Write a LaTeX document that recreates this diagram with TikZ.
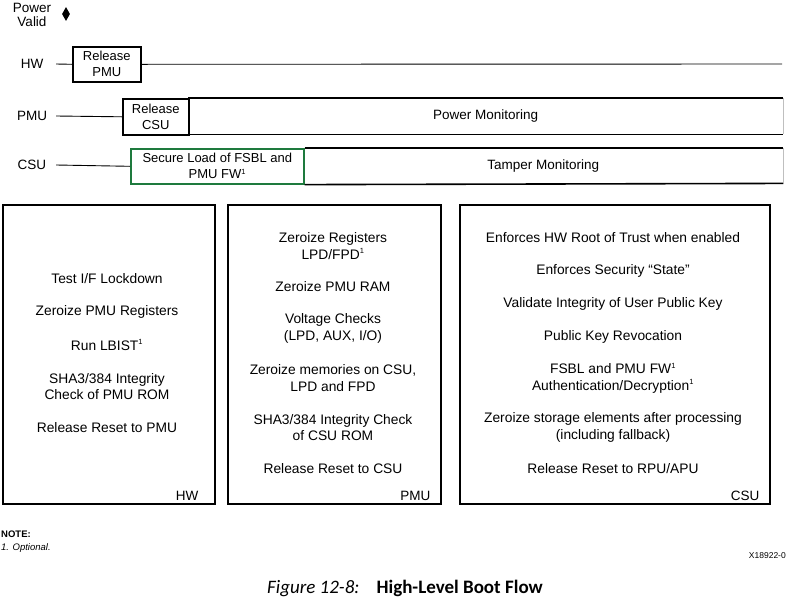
\documentclass[tikz,border=0pt]{standalone}
\usepackage{fontspec}
\setmainfont{Liberation Sans}
\newfontfamily\capfont{Carlito}
\usepackage{xcolor}
\usetikzlibrary{shapes.geometric}
\tikzset{>=stealth}
\definecolor{fwgreen}{RGB}{30,122,62}
\newcommand{\opt}{\textsuperscript{\fontsize{7.5}{7.5}\selectfont 1}}

\begin{document}
\begin{tikzpicture}[x=1pt,y=-1pt,
    lane/.style={minimum width=48pt,inner sep=0pt,font=\fontsize{13.5}{15}\selectfont},
    stage/.style={draw,line width=1.6pt,anchor=north west,inner sep=0pt,align=center,font=\fontsize{13}{16}\selectfont},
    band/.style={anchor=north west,inner sep=0pt,font=\fontsize{13.5}{15}\selectfont},
    panel/.style={draw,line width=1.6pt,anchor=north west,inner sep=0pt},
    item/.style={align=center,font=\fontsize{13.8}{16.5}\selectfont},
    tag/.style={anchor=south east,inner xsep=11pt,inner ysep=4pt,font=\fontsize{13.5}{15}\selectfont},
    link/.style={line width=0.9pt}]
      \useasboundingbox (0,0) rectangle (787,600);
      % power valid marker
      \node[align=center,font=\fontsize{13.5}{14}\selectfont] (pwrvalid) at (32,15) {Power\\Valid};
      \node[diamond,fill,inner sep=0pt,minimum width=8pt,minimum height=14pt] (pvmark) at (66,14) {};
      % HW row
      \node[lane] (hwlbl) at (32,64) {HW};
      \node[stage,minimum width=68pt,minimum height=35pt] (relpmu) at (72,46) {Release\\PMU};
      \coordinate (hwend) at (782,64);
      \draw[link] (hwlbl.east) -- (relpmu.west);
      \draw[link] (relpmu.east) -- (hwend);
      % PMU row
      \node[lane] (pmulbl) at (32,116) {PMU};
      \node[stage,minimum width=66pt,minimum height=36pt] (relcsu) at (122,98) {Release\\CSU};
      \node[band,minimum width=595pt,minimum height=36pt] (pwrmon) at (188,98) {Power Monitoring};
      \draw[link] (pmulbl.east) -- (relcsu.west);
      \draw[line width=1.6pt] (pwrmon.north west) -- (pwrmon.north east);
      \draw[line width=1.6pt] (pwrmon.south west) -- (pwrmon.south east);
      \draw[black!25] (pwrmon.north east) -- (pwrmon.south east);
      % CSU row
      \node[lane] (csulbl) at (32,165) {CSU};
      \node[stage,draw=fwgreen,minimum width=173pt,minimum height=35pt] (secload) at (130,148) {Secure Load of FSBL and\\PMU FW\opt};
      \node[band,minimum width=480pt,minimum height=35pt] (tamper) at (303,148) {Tamper Monitoring};
      \draw[link] (csulbl.east) -- (secload.west);
      \draw[line width=1.6pt] (secload.north east) -- (tamper.north east);
      \draw[line width=1.6pt] (secload.south east) -- (tamper.south east);
      \draw[black!25] (tamper.north east) -- (tamper.south east);
      % HW panel
      \node[panel,minimum width=212pt,minimum height=299pt] (hwbox) at (2,204) {};
      \node[item] (hw1) at (107,279) {Test I/F Lockdown};
      \node[item] (hw2) at (107,312) {Zeroize PMU Registers};
      \node[item] (hw3) at (107,345) {Run LBIST\opt};
      \node[item] (hw4) at (107,386.5) {SHA3/384 Integrity\\Check of PMU ROM};
      \node[item] (hw5) at (107,428) {Release Reset to PMU};
      \node[tag,inner xsep=17pt] (hwtag) at (hwbox.south east) {HW};
      % PMU panel
      \node[panel,minimum width=213pt,minimum height=299pt] (pmubox) at (227,204) {};
      \node[item] (pmu1) at (333,246) {Zeroize Registers\\LPD/FPD\opt};
      \node[item] (pmu2) at (333,287) {Zeroize PMU RAM};
      \node[item] (pmu3) at (333,328.5) {Voltage Checks\\(LPD, AUX, I/O)};
      \node[item] (pmu4) at (333,378) {Zeroize memories on CSU,\\LPD and FPD};
      \node[item] (pmu5) at (333,427.5) {SHA3/384 Integrity Check\\of CSU ROM};
      \node[item] (pmu6) at (333,469) {Release Reset to CSU};
      \node[tag] (pmutag) at (pmubox.south east) {PMU};
      % CSU panel
      \node[panel,minimum width=310pt,minimum height=299pt] (csubox) at (459,204) {};
      \node[item] (csu1) at (613,238) {Enforces HW Root of Trust when enabled};
      \node[item] (csu2) at (613,271) {Enforces Security “State”};
      \node[item] (csu3) at (613,304) {Validate Integrity of User Public Key};
      \node[item] (csu4) at (613,337) {Public Key Revocation};
      \node[item] (csu5) at (613,378) {FSBL and PMU FW\opt\\Authentication/Decryption\opt};
      \node[item] (csu6) at (613,427.5) {Zeroize storage elements after processing\\(including fallback)};
      \node[item] (csu7) at (613,469) {Release Reset to RPU/APU};
      \node[tag] (csutag) at (csubox.south east) {CSU};
      % notes and caption
      \node[anchor=west,inner sep=0pt,font=\fontsize{9.5}{10}\selectfont\bfseries] (note) at (1,534) {NOTE:};
      \node[anchor=west,inner sep=0pt,font=\fontsize{9.5}{10}\selectfont\itshape] (optional) at (1,548) {1. Optional.};
      \node[anchor=east,inner sep=0pt,font=\fontsize{8.5}{10}\selectfont] (figid) at (786,556) {X18922-0};
      \node[font=\capfont\fontsize{19}{22}\selectfont] (caption) at (405,588) {\textit{Figure 12-8:}\hspace{0.9em}\textbf{High-Level Boot Flow}};
\end{tikzpicture}
\end{document}
